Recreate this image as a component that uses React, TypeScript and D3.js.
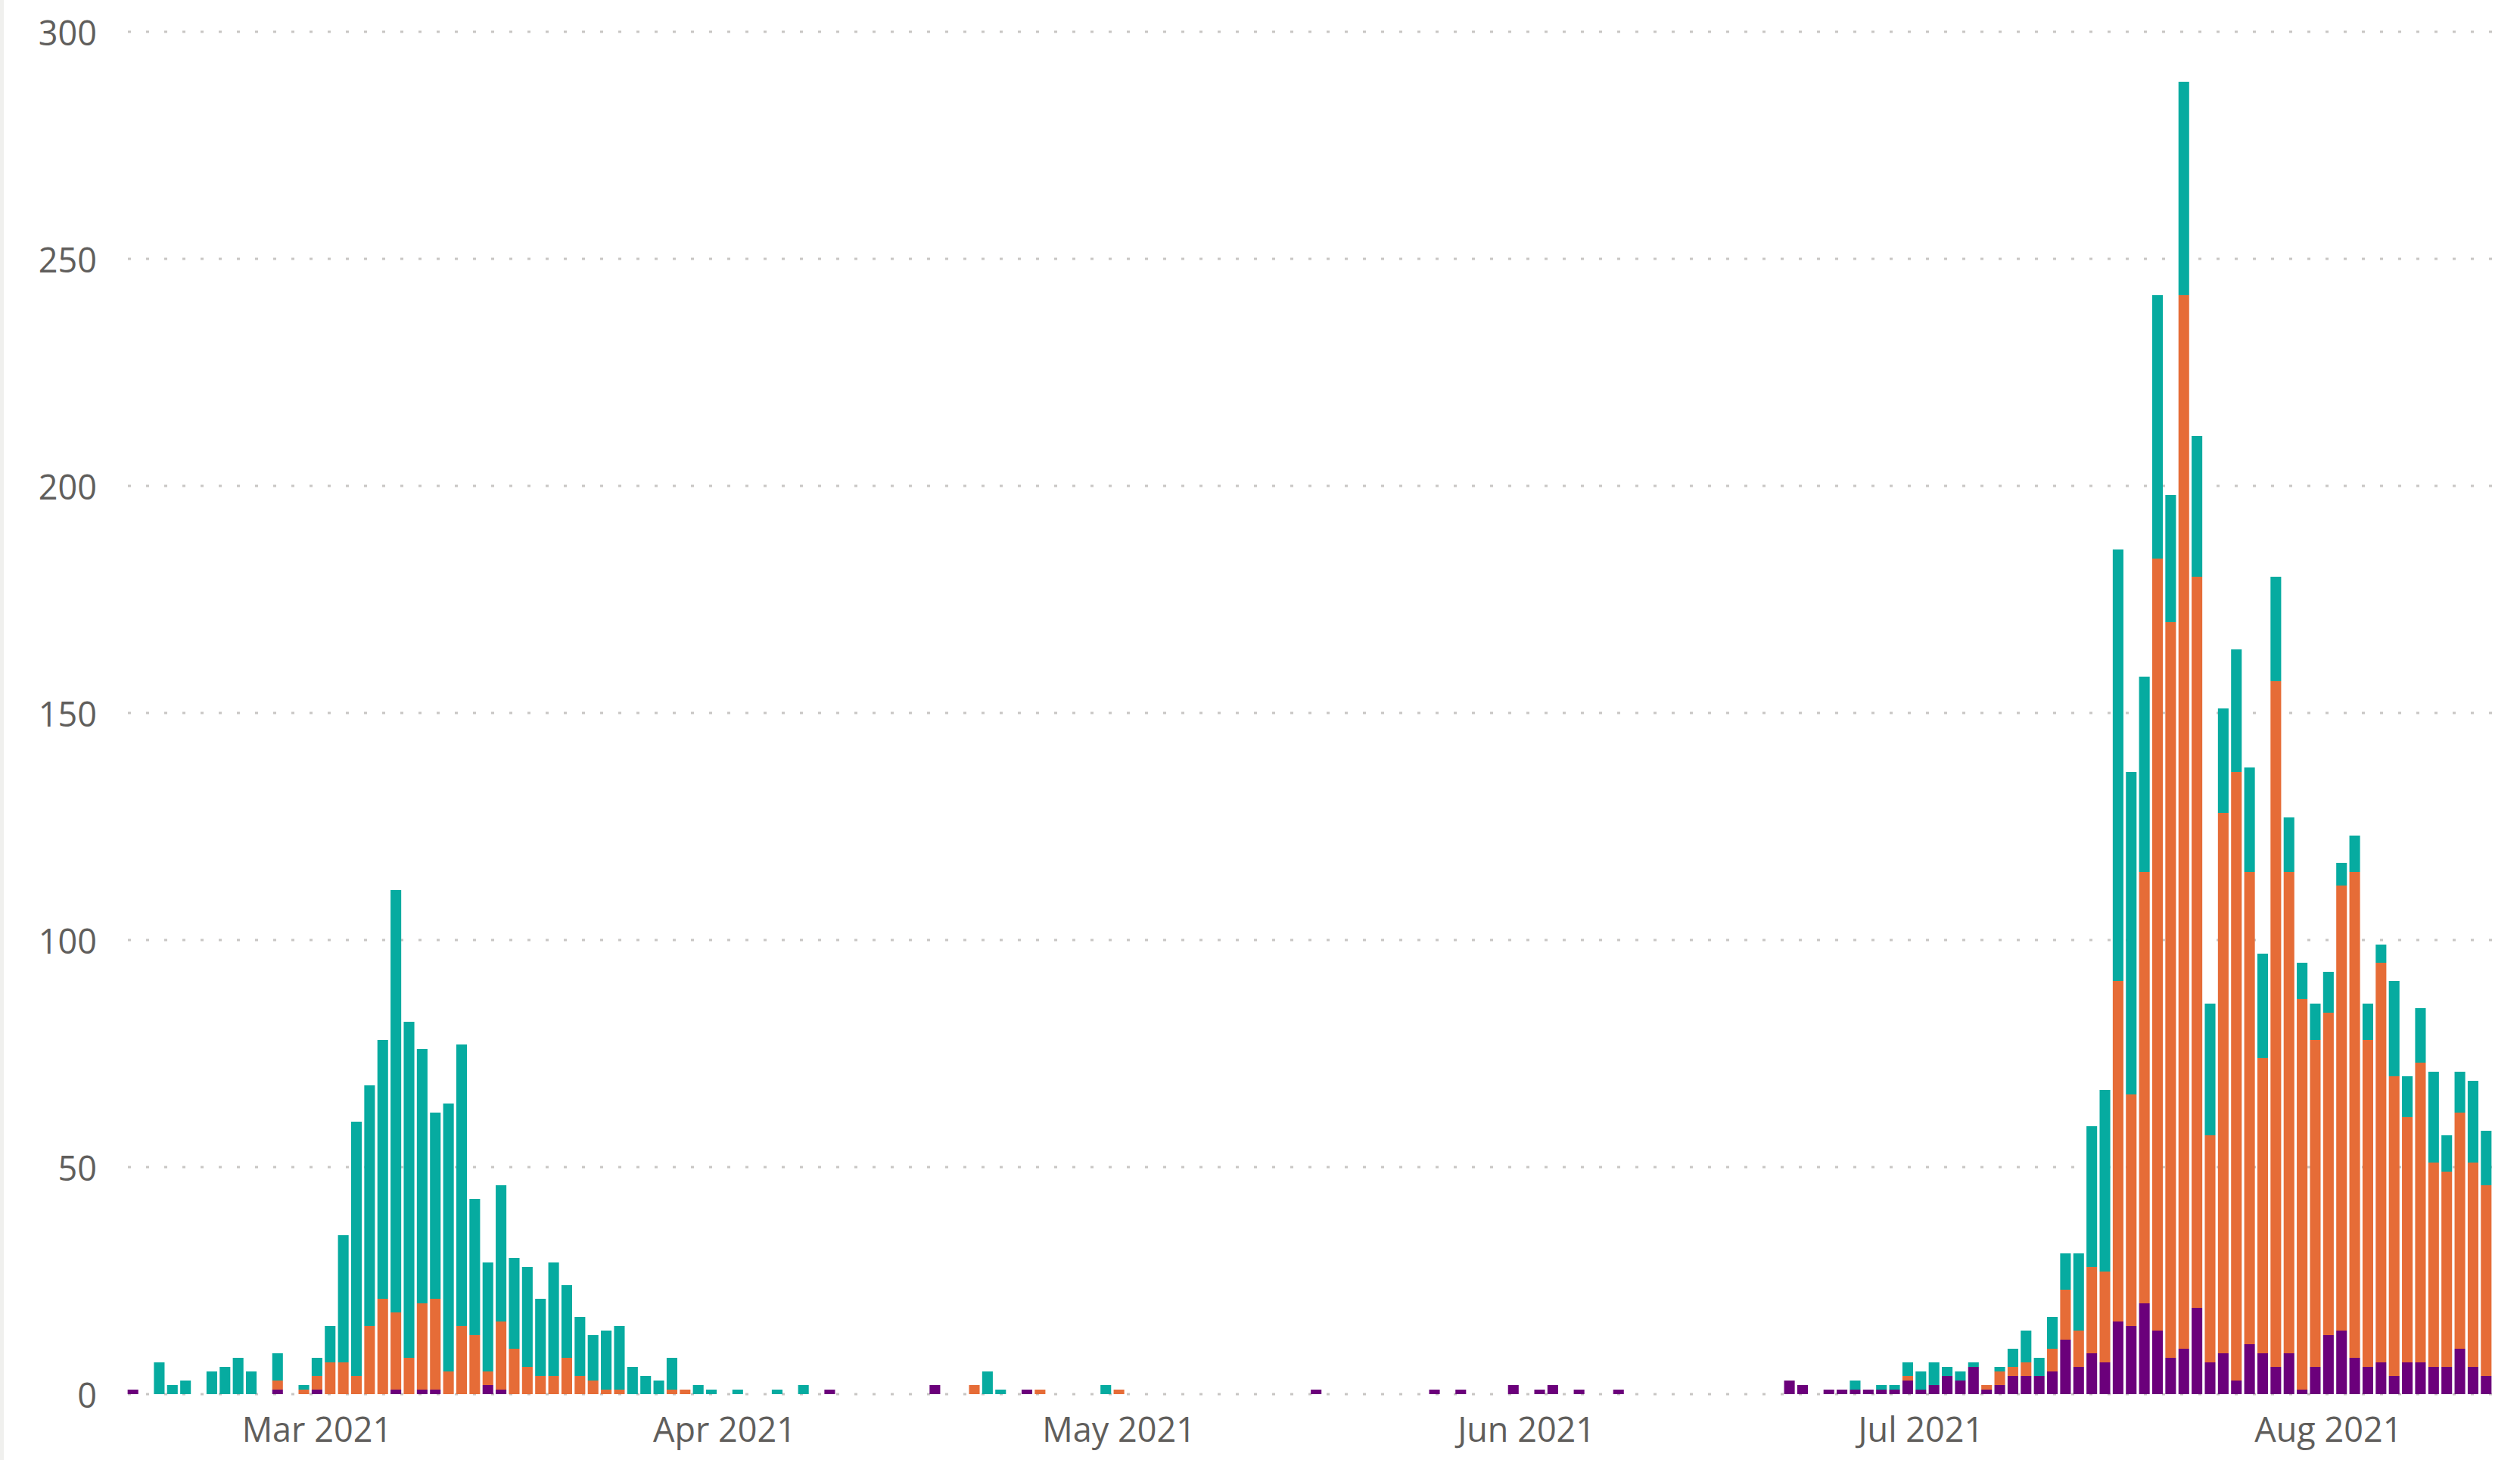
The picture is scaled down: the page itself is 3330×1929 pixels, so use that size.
import React from 'react';
import * as d3 from 'd3';

// daily values, Feb 15 2021 .. Aug 13 2021 (one entry per day)
const startDay = '2021-02-15';

const purple = [
  // Feb 15-28
  1, 0, 0, 0, 0, 0, 0, 0, 0, 0, 0, 1, 0, 0,
  // Mar
  1, 0, 0, 0, 0, 0, 1, 0, 1, 1, 0, 0, 0, 2, 1, 0, 0, 0, 0, 0, 0, 0, 0, 0, 0, 0, 0, 0, 0, 0, 0,
  // Apr
  0, 0, 0, 0, 0, 0, 0, 0, 1, 0, 0, 0, 0, 0, 0, 0, 2, 0, 0, 0, 0, 0, 0, 1, 0, 0, 0, 0, 0, 0,
  // May
  0, 0, 0, 0, 0, 0, 0, 0, 0, 0, 0, 0, 0, 0, 0, 1, 0, 0, 0, 0, 0, 0, 0, 0, 1, 0, 1, 0, 0, 0, 2,
  // Jun
  0, 1, 2, 0, 1, 0, 0, 1, 0, 0, 0, 0, 0, 0, 0, 0, 0, 0, 0, 0, 3, 2, 0, 1, 1, 1, 1, 1, 1, 3,
  // Jul
  1, 2, 4, 3, 6, 1, 2, 4, 4, 4, 5, 12, 6, 9, 7, 16, 15, 20, 14, 8, 10, 19, 7, 9, 3, 11, 9, 6, 9, 1, 6,
  // Aug 1-13
  13, 14, 8, 6, 7, 4, 7, 7, 6, 6, 10, 6, 4,
];

const orange = [
  0, 0, 0, 0, 0, 0, 0, 0, 0, 0, 0, 2, 0, 1,
  3, 7, 7, 4, 15, 21, 17, 8, 19, 20, 5, 15, 13, 3, 15, 10, 6, 4, 4, 8, 4, 3, 1, 1, 0, 0, 0, 1, 1, 0, 0,
  0, 0, 0, 0, 0, 0, 0, 0, 0, 0, 0, 0, 0, 0, 0, 0, 0, 0, 0, 2, 0, 0, 0, 0, 1, 0, 0, 0, 0, 0,
  1, 0, 0, 0, 0, 0, 0, 0, 0, 0, 0, 0, 0, 0, 0, 0, 0, 0, 0, 0, 0, 0, 0, 0, 0, 0, 0, 0, 0, 0, 0,
  0, 0, 0, 0, 0, 0, 0, 0, 0, 0, 0, 0, 0, 0, 0, 0, 0, 0, 0, 0, 0, 0, 0, 0, 0, 0, 0, 0, 0, 1,
  0, 0, 0, 0, 0, 1, 3, 2, 3, 0, 5, 11, 8, 19, 20, 75, 51, 95, 170, 162, 232, 161, 50, 119, 134, 104, 65, 151, 106, 86, 72,
  71, 98, 107, 72, 88, 66, 54, 66, 45, 43, 52, 45, 42,
];

const teal = [
  0, 0, 7, 2, 3, 0, 5, 6, 8, 5, 0, 6, 0, 1,
  4, 8, 28, 56, 53, 57, 93, 74, 56, 41, 59, 62, 30, 24, 30, 20, 22, 17, 25, 16, 13, 10, 13, 14, 6, 4, 3, 7, 0, 2, 1,
  0, 1, 0, 0, 1, 0, 2, 0, 0, 0, 0, 0, 0, 0, 0, 0, 0, 0, 0, 0, 5, 1, 0, 0, 0, 0, 0, 0, 0, 2,
  0, 0, 0, 0, 0, 0, 0, 0, 0, 0, 0, 0, 0, 0, 0, 0, 0, 0, 0, 0, 0, 0, 0, 0, 0, 0, 0, 0, 0, 0, 0,
  0, 0, 0, 0, 0, 0, 0, 0, 0, 0, 0, 0, 0, 0, 0, 0, 0, 0, 0, 0, 0, 0, 0, 0, 0, 2, 0, 1, 1, 3,
  4, 5, 2, 2, 1, 0, 1, 4, 7, 4, 7, 8, 17, 31, 40, 95, 71, 43, 58, 28, 47, 31, 29, 23, 27, 23, 23, 23, 12, 8, 8,
  9, 5, 8, 8, 4, 21, 9, 12, 20, 8, 9, 18, 12,
];

const monthTicks = ['2021-03-01', '2021-04-01', '2021-05-01', '2021-06-01', '2021-07-01', '2021-08-01'];
const monthLabels = ['Mar 2021', 'Apr 2021', 'May 2021', 'Jun 2021', 'Jul 2021', 'Aug 2021'];
const yTicks = [0, 50, 100, 150, 200, 250, 300];

const seriesKeys = ['purple', 'orange', 'teal'];
const seriesColors = ['#6B007B', '#E66C37', '#06ABA0'];

const W = 3330;
const H = 1929;
const FONT = "'Segoe UI', 'Open Sans', sans-serif";

export default function App() {
  const fmt = d3.utcFormat('%Y-%m-%d');
  const start = new Date(startDay);
  const days = d3.utcDay.range(start, d3.utcDay.offset(start, purple.length)).map(fmt);

  const rows = days.map((d, i) => ({ day: d, purple: purple[i], orange: orange[i], teal: teal[i] }));
  const stacked = d3.stack().keys(seriesKeys)(rows as any);

  const x = d3.scaleBand().domain(days).range([167, 3294]).paddingInner(0.19).paddingOuter(0.095);
  const y = d3.scaleLinear().domain([0, 300]).range([1842, 42]);

  return (
    <svg width={W} height={H} style={{ position: 'absolute', left: 0, top: 0, background: '#fff' }}>
      <rect x={0} y={0} width={5} height={H} fill="#F0F0EE" />
      {/* gridlines */}
      <g>
        {yTicks.map(t => (
          <line key={t} x1={169} x2={3300} y1={y(t)} y2={y(t)}
            stroke="#C8C6C4" strokeWidth={3} strokeDasharray="4 20" />
        ))}
      </g>
      {/* y labels */}
      <g fontFamily={FONT} fontSize={45} fill="#605E5C" textAnchor="end">
        {yTicks.map(t => (
          <text key={t} x={128} y={y(t)} dominantBaseline="central">{t}</text>
        ))}
      </g>
      {/* stacked bars */}
      {stacked.map((s, si) => (
        <g key={seriesKeys[si]} fill={seriesColors[si]}>
          {s.map((d: any) => {
            const h = y(d[0]) - y(d[1]);
            if (h <= 0) return null;
            return <rect key={d.data.day} x={x(d.data.day)} y={y(d[1])} width={x.bandwidth()} height={h} />;
          })}
        </g>
      ))}
      {/* x labels */}
      <g fontFamily={FONT} fontSize={45} fill="#605E5C" textAnchor="middle">
        {monthTicks.map((m, i) => (
          <text key={m} x={(x(m) || 0) + x.bandwidth() / 2} y={1887} dominantBaseline="central">{monthLabels[i]}</text>
        ))}
      </g>
    </svg>
  );
}
